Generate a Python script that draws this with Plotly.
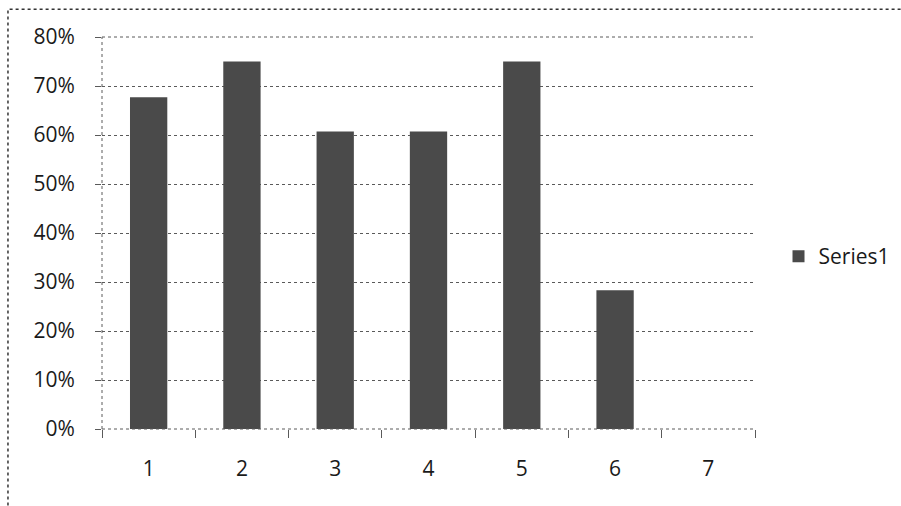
import plotly.graph_objects as go

categories = ["1", "2", "3", "4", "5", "6", "7"]
series1 = [0.677, 0.75, 0.607, 0.607, 0.75, 0.283, 0.0]
y_ticks = [0, 0.1, 0.2, 0.3, 0.4, 0.5, 0.6, 0.7, 0.8]
y_labels = ["0%", "10%", "20%", "30%", "40%", "50%", "60%", "70%", "80%"]

fig = go.Figure()
fig.add_trace(go.Bar(
    x=categories, y=series1, name="Series1",
    marker=dict(color="#4a4a4a", line=dict(width=0)),
    showlegend=True,
))

grid_col = "#5a5a5a"
fig.update_layout(
    width=901, height=506,
    margin=dict(l=102, r=146, t=37, b=77, autoexpand=False),
    paper_bgcolor="white", plot_bgcolor="white",
    font=dict(family="Open Sans", size=21, color="#1a1a1a"),
    bargap=0.6,
    showlegend=True,
    legend=dict(x=1.036, y=0.44, xanchor="left", yanchor="middle",
                font=dict(size=21), itemwidth=30, bgcolor="rgba(0,0,0,0)"),
    xaxis=dict(
        type="category", tickson="boundaries", ticks="outside", ticklen=8,
        tickcolor=grid_col, showgrid=False, showline=False, zeroline=False,
        ticklabelstandoff=25,
    ),
    yaxis=dict(
        range=[0, 0.8], tickvals=y_ticks, ticktext=y_labels,
        showgrid=True, gridcolor=grid_col, griddash="dot", gridwidth=1,
        ticks="outside", ticklen=6, tickcolor=grid_col,
        showline=False, zeroline=False, ticklabelstandoff=16,
    ),
    shapes=[
        dict(type="line", xref="paper", yref="paper", x0=0, x1=0, y0=0, y1=1,
             line=dict(color=grid_col, width=1, dash="dot")),
        dict(type="line", xref="paper", yref="paper", x0=0, x1=1, y0=0, y1=0,
             line=dict(color=grid_col, width=1, dash="dot")),
        dict(type="line", xref="paper", yref="paper", x0=0, x1=1, y0=1, y1=1,
             line=dict(color=grid_col, width=1, dash="dot")),
        dict(type="rect", xref="paper", yref="paper",
             x0=-0.144, x1=1.25, y0=-0.22, y1=1.071,
             line=dict(color="#333333", width=1.5, dash="dot"), layer="below"),
    ],
)

fig.write_html("out.html")
